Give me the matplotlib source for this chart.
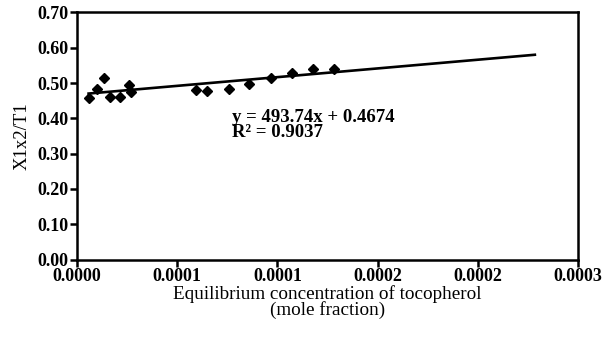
import numpy as np
import matplotlib
matplotlib.use('Agg')
import matplotlib.pyplot as plt

# data
conc = [5.8e-6, 1.0e-5, 1.36e-5, 1.63e-5, 2.13e-5, 2.58e-5, 2.69e-5,
        5.94e-5, 6.49e-5, 7.57e-5, 8.60e-5, 9.68e-5, 1.073e-4, 1.178e-4, 1.281e-4]
ratio = [0.459, 0.482, 0.515, 0.460, 0.460, 0.494, 0.476,
         0.480, 0.478, 0.484, 0.497, 0.515, 0.528, 0.540, 0.540]
slope = 493.74
intercept = 0.4674
r2 = 0.9037
fit_x = [5.8e-6, 2.285e-4]

xticks = [0, 5e-5, 1e-4, 1.5e-4, 2e-4, 2.5e-4]
xticklabels = ["0.0000", "0.0001", "0.0001", "0.0002", "0.0002", "0.0003"]
yticks = [0.0, 0.1, 0.2, 0.3, 0.4, 0.5, 0.6, 0.7]

plt.rcParams['font.family'] = ['Liberation Serif', 'DejaVu Serif']

fig = plt.figure(figsize=(6.09, 3.43), dpi=100)
ax = fig.add_axes([0.1264, 0.2434, 0.8226, 0.7202])

fx = np.array(fit_x)
ax.plot(fx, slope * fx + intercept, color='black', lw=1.9, zorder=2)
ax.plot(conc, ratio, 'D', color='black', ms=4.6, mec='black', zorder=3)

ax.set_xlim(0, 2.5e-4)
ax.set_ylim(0, 0.7)
ax.set_xticks(xticks)
ax.set_xticklabels(xticklabels)
ax.set_yticks(yticks)
ax.set_yticklabels(["%.2f" % v for v in yticks])
for lab in ax.get_xticklabels() + ax.get_yticklabels():
    lab.set_fontweight('bold')
    lab.set_fontsize(13)

ax.tick_params(direction='out', length=5, width=1.8, pad=1)
for s in ax.spines.values():
    s.set_linewidth(1.8)

ax.set_xlabel("Equilibrium concentration of tocopherol\n(mole fraction)",
              fontsize=13.8, linespacing=0.9, labelpad=0)
ax.set_ylabel("X1x2/T1", fontsize=13.5, labelpad=5)

ax.text(0.309, 0.61, "y = %.2fx + %.4f\nR\u00b2 = %.4f" % (slope, intercept, r2),
        transform=ax.transAxes, fontsize=13.5, fontweight='bold',
        va='top', ha='left', linespacing=0.85)

fig.savefig("out.png", dpi=100)
